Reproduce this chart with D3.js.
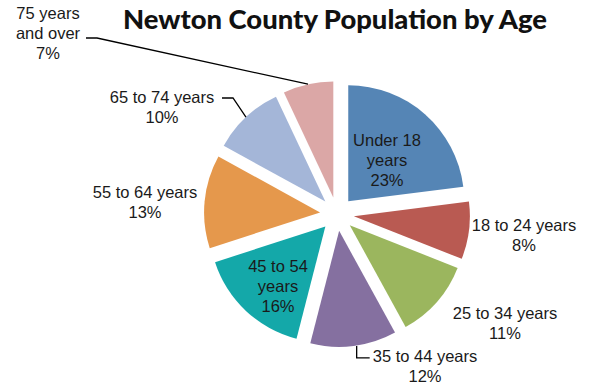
<!DOCTYPE html>
<html>
<head>
<meta charset="utf-8">
<script src="https://cdn.jsdelivr.net/npm/d3@7/dist/d3.min.js"></script>
<style>
  html, body { margin: 0; padding: 0; background: #fff; }
  svg { display: block; }
</style>
</head>
<body>
<svg id="chart" width="593" height="387"></svg>
<script>
// Age groups and their share of the population (%)
const categories = ["Under 18 years", "18 to 24 years", "25 to 34 years", "35 to 44 years",
                    "45 to 54 years", "55 to 64 years", "65 to 74 years", "75 years and over"];
const shares = [23, 8, 11, 12, 16, 13, 10, 7];
const colors = ["#5585b5", "#b95a52", "#9bb65e", "#8570a0", "#14a8a9", "#e5984c", "#a4b6d8", "#dba7a6"];
// Label text lines (the percentage line is appended from the value)
const labelLines = [["Under 18", "years"], ["18 to 24 years"], ["25 to 34 years"], ["35 to 44 years"],
                    ["45 to 54", "years"], ["55 to 64 years"], ["65 to 74 years"], ["75 years", "and over"]];

const W = 593, H = 387;
const cx = 337, cy = 214, R = 116, explode = 17;

// Label layout: centre x and vertical centre of first line, plus optional leader line
const labelLayout = [
  { x: 387, y: 140 },
  { x: 524, y: 225 },
  { x: 505, y: 313 },
  { x: 425, y: 356, leader: "elbowDown" },
  { x: 278, y: 266 },
  { x: 145, y: 192 },
  { x: 162, y: 97, leader: "left", hx: 222, hy: 98 },
  { x: 48,  y: 13,  leader: "left", hx: 86, hy: 38 }
];

const svg = d3.select("#chart");

const pie = d3.pie().value(d => d).sort(null).startAngle(0).endAngle(2 * Math.PI);
const arcs = pie(shares);
const arc = d3.arc().innerRadius(0).outerRadius(R);

function dir(a) { return [Math.sin(a), -Math.cos(a)]; }

const g = svg.append("g").attr("transform", `translate(${cx},${cy})`);

g.selectAll("path.slice")
  .data(arcs)
  .join("path")
  .attr("class", "slice")
  .attr("d", arc)
  .attr("fill", (d, i) => colors[i])
  .attr("transform", d => {
    const m = (d.startAngle + d.endAngle) / 2;
    const [ux, uy] = dir(m);
    return `translate(${ux * explode},${uy * explode})`;
  });

// Leader lines from the slice edge to its label
arcs.forEach((d, i) => {
  const L = labelLayout[i];
  if (!L.leader) return;
  const m = (d.startAngle + d.endAngle) / 2;
  const [ux, uy] = dir(m);
  const px = cx + ux * (explode + R), py = cy + uy * (explode + R);
  let pts;
  if (L.leader === "left") {
    pts = [[L.hx, L.hy], [L.hx + 11, L.hy], [px, py]];
  } else {
    pts = [[px + 3, py], [px + 3, py + 12], [px + 16, py + 12]];
  }
  svg.append("path")
    .attr("d", d3.line()(pts))
    .attr("fill", "none")
    .attr("stroke", "#000")
    .attr("stroke-width", 1.3);
});

// Labels
arcs.forEach((d, i) => {
  const L = labelLayout[i];
  const lines = labelLines[i].concat([shares[i] + "%"]);
  const t = svg.append("text")
    .attr("x", L.x)
    .attr("y", L.y)
    .attr("text-anchor", "middle")
    .attr("font-family", "Liberation Sans, Arial, sans-serif")
    .attr("font-size", 16.5)
    .attr("fill", "#1a1a1a");
  lines.forEach((s, k) => {
    t.append("tspan")
      .attr("x", L.x)
      .attr("dy", k === 0 ? "0.35em" : 20)
      .text(s);
  });
});

// Title
const title = svg.append("text")
  .attr("x", 335)
  .attr("y", 29)
  .attr("text-anchor", "middle")
  .attr("font-family", "Lato, 'Open Sans', sans-serif")
  .attr("font-weight", 900)
  .attr("font-size", 21)
  .attr("fill", "#111")
  .text("Newton County Population by Age");
const tw = title.node().getComputedTextLength();
title.attr("font-size", 21 * 424 / tw);
</script>
</body>
</html>
